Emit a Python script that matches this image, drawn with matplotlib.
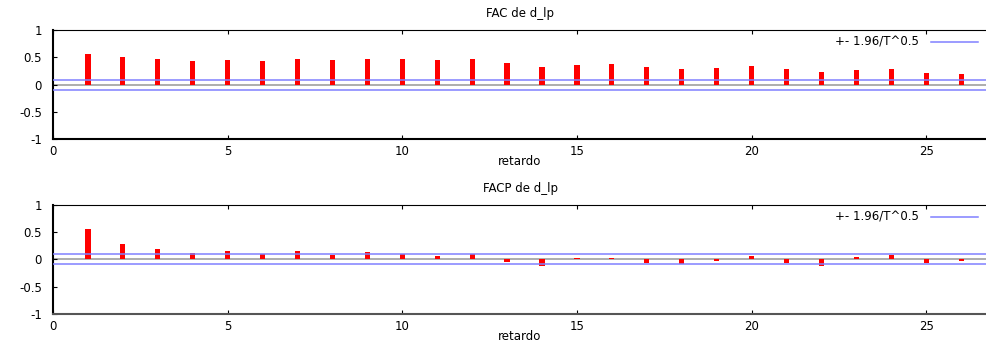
#!/usr/bin/env python3
# Correlogram (FAC / FACP) of d_lp, gnuplot-like look
import matplotlib
matplotlib.use("Agg")
from matplotlib import pyplot as plt

lags = list(range(1, 27))
facVals = [0.558, 0.503, 0.473, 0.442, 0.455, 0.436, 0.467, 0.448, 0.473, 0.473,
           0.455, 0.473, 0.400, 0.327, 0.364, 0.376, 0.327, 0.291, 0.303, 0.339,
           0.285, 0.236, 0.273, 0.291, 0.218, 0.200]
facpVals = [0.560, 0.285, 0.187, 0.114, 0.150, 0.100, 0.150, 0.078, 0.133, 0.100,
            0.072, 0.108, -0.050, -0.115, 0.020, 0.035, -0.066, -0.085, -0.030, 0.062,
            -0.058, -0.118, 0.046, 0.082, -0.068, -0.030]
band = 0.0914
titles = ["FAC de d_lp", "FACP de d_lp"]
xTicks = [0, 5, 10, 15, 20, 25]
yTicks = [-1, -0.5, 0, 0.5, 1]
yTickLabels = ["-1", "-0.5", "0", "0.5", "1"]
legendLabel = "+- 1.96/T^0.5"

plt.rcParams["font.family"] = ["DejaVu Sans"]
plt.rcParams["axes.unicode_minus"] = False

fig = plt.figure(figsize=(9.87, 3.44), dpi=100)
axTop = fig.add_axes([0.0537, 0.5945, 0.9463, 0.3183])
axBot = fig.add_axes([0.0537, 0.0872, 0.9463, 0.3170])

for ax, vals, title, bottomColor in [(axTop, facVals, titles[0], "black"), (axBot, facpVals, titles[1], "#555555")]:
    ax.axhline(0, color="#a0a0a0", linewidth=1.2, zorder=1)
    ax.bar(lags, vals, width=0.15, color="#ff0000", edgecolor="none", zorder=2)
    ax.axhline(band, color="#8080ff", linewidth=1.1, zorder=3, label=legendLabel)
    ax.axhline(-band, color="#8080ff", linewidth=1.1, zorder=3)
    ax.set_xlim(0, 26.74)
    ax.set_ylim(-1, 1)
    ax.set_xticks(xTicks)
    ax.set_yticks(yTicks)
    ax.set_yticklabels(yTickLabels)
    ax.tick_params(axis="x", direction="in", top=True, bottom=True, length=3, width=0.8, labelsize=8.5, pad=4)
    ax.tick_params(axis="y", direction="in", left=True, right=False, length=3, width=0.8, labelsize=8.5, pad=8)
    ax.spines["right"].set_visible(False)
    ax.spines["left"].set_linewidth(1.5)
    ax.spines["top"].set_linewidth(0.8)
    ax.spines["bottom"].set_linewidth(1.5)
    ax.spines["bottom"].set_color(bottomColor)
    ax.set_title(title, fontsize=8.5, pad=9)
    ax.set_xlabel("retardo", fontsize=8.5, labelpad=-2)
    ax.legend(loc="upper right", bbox_to_anchor=(1.002, 1.045), frameon=False, markerfirst=False,
              fontsize=8.5, handlelength=4.0, handletextpad=1.0)

fig.savefig("out.png", dpi=100)
